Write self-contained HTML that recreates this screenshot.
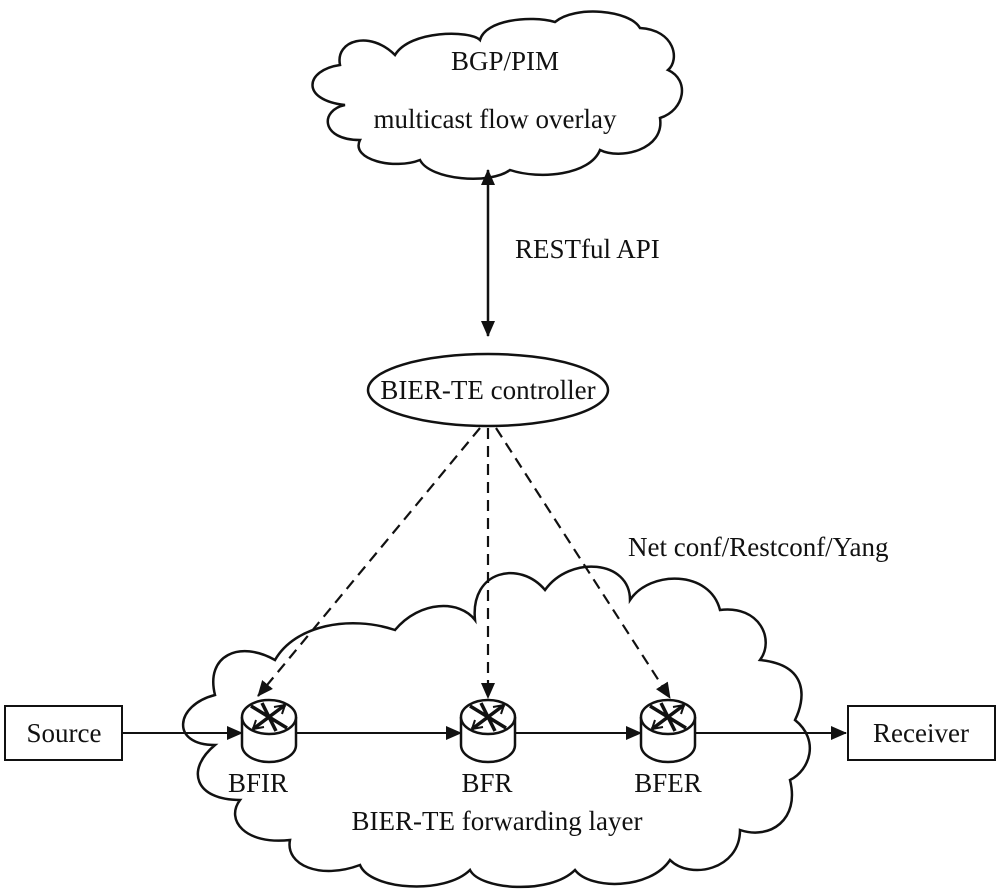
<!DOCTYPE html>
<html><head><meta charset="utf-8"><style>
html,body{margin:0;padding:0;background:#fff}
svg{display:block}
text{font-family:"Liberation Serif",serif;fill:#111}
</style></head><body>
<svg width="1000" height="891" viewBox="0 0 1000 891" xmlns="http://www.w3.org/2000/svg">
<defs>
<marker id="b" markerWidth="16" markerHeight="16" refX="15" refY="8" orient="auto-start-reverse" markerUnits="userSpaceOnUse" viewBox="0 0 16 16">
<path d="M0,1 L16,8 L0,15 z" fill="#111"/></marker>
<g id="r">
<path d="M-27,0 L-27,28 A27,17 0 0 0 27,28 L27,0" fill="#fff" stroke="#111" stroke-width="2.5"/>
<ellipse cx="0" cy="0" rx="27" ry="17" fill="#fff" stroke="#111" stroke-width="2.5"/>
<path d="M-18,-11 L18,11 M-7,-14 L7,14 M16,-12 L-16,12" stroke="#111" stroke-width="3.5"/>
<path d="M5,-10 L16,-12 L13,-3 M-5,10 L-16,12 L-13,3" stroke="#111" stroke-width="2" fill="none"/>
</g>
</defs>
<g fill="#fff" stroke="#111" stroke-width="2.5">
<path d="M345,105 C300,100 305,70 340,65 C335,40 370,30 395,55 C410,30 470,30 480,40 C485,20 530,15 555,22 C575,5 630,10 640,28 C675,30 680,60 668,70 C690,80 685,110 660,118 C665,150 620,160 600,150 C590,175 540,180 510,170 C490,185 430,180 420,160 C395,170 350,160 360,140 C320,140 320,110 345,105 Z"/>
<path d="M215,745 C170,745 175,705 215,695 C205,655 240,640 275,660 C295,625 350,615 395,630 C420,600 460,600 475,620 C470,570 520,560 545,590 C570,555 630,560 630,600 C650,570 710,570 720,610 C760,605 775,640 760,660 C810,665 805,700 795,720 C820,740 810,770 790,780 C800,820 770,840 740,830 C740,870 690,880 670,860 C650,890 590,890 575,870 C550,895 480,890 470,870 C445,895 370,890 360,865 C320,880 285,865 290,840 C245,845 225,820 240,800 C195,800 185,770 215,745 Z"/>
</g>
<text x="505" y="70" font-size="27" text-anchor="middle">BGP/PIM</text>
<text x="495" y="128" font-size="27" text-anchor="middle">multicast flow overlay</text>
<line x1="488" y1="170" x2="488" y2="336" stroke="#111" stroke-width="2.5" marker-end="url(#b)" marker-start="url(#b)"/>
<text x="515" y="258" font-size="27">RESTful API</text>
<ellipse cx="488" cy="390" rx="120" ry="36" fill="#fff" stroke="#111" stroke-width="2.5"/>
<text x="488" y="399" font-size="27" text-anchor="middle">BIER-TE controller</text>
<text x="628" y="556" font-size="27">Net conf/Restconf/Yang</text>
<g stroke="#111" stroke-width="2.2" stroke-dasharray="11,7" fill="none">
<line x1="480" y1="428" x2="258" y2="696" marker-end="url(#b)"/>
<line x1="488" y1="428" x2="488" y2="698" marker-end="url(#b)"/>
<line x1="496" y1="428" x2="670" y2="698" marker-end="url(#b)"/>
</g>
<g stroke="#111" stroke-width="2" fill="none">
<line x1="122" y1="733" x2="242" y2="733" marker-end="url(#b)"/>
<line x1="297" y1="733" x2="461" y2="733" marker-end="url(#b)"/>
<line x1="515" y1="733" x2="641" y2="733" marker-end="url(#b)"/>
<line x1="695" y1="733" x2="846" y2="733" marker-end="url(#b)"/>
</g>
<use href="#r" x="269" y="717"/>
<use href="#r" x="488" y="717"/>
<use href="#r" x="668" y="717"/>
<rect x="5" y="706" width="117" height="54" fill="#fff" stroke="#111" stroke-width="2"/>
<text x="64" y="742" font-size="27" text-anchor="middle">Source</text>
<rect x="848" y="706" width="147" height="54" fill="#fff" stroke="#111" stroke-width="2"/>
<text x="921" y="742" font-size="27" text-anchor="middle">Receiver</text>
<text x="258" y="792" font-size="27" text-anchor="middle">BFIR</text>
<text x="487" y="792" font-size="27" text-anchor="middle">BFR</text>
<text x="668" y="792" font-size="27" text-anchor="middle">BFER</text>
<text x="497" y="830" font-size="27" text-anchor="middle">BIER-TE forwarding layer</text>
</svg>
</body></html>
